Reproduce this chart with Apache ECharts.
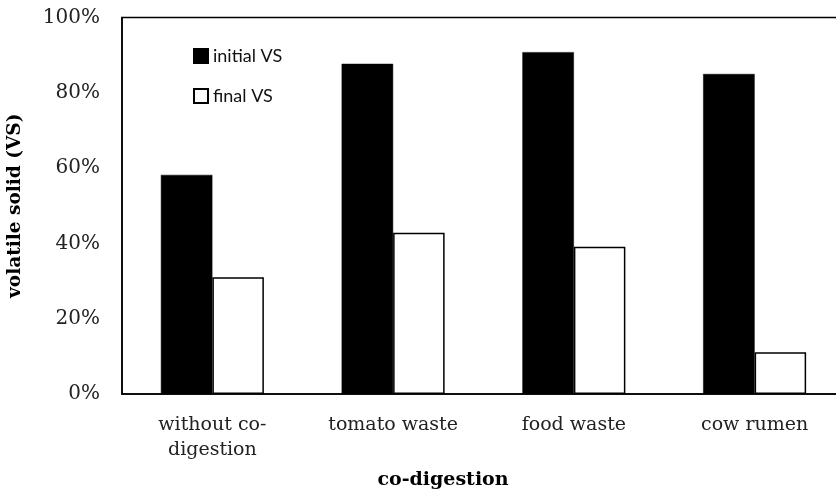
<!DOCTYPE html>
<html>
<head>
<meta charset="utf-8">
<script src="https://cdn.jsdelivr.net/npm/echarts@6/dist/echarts.min.js"></script>
<style>html,body{margin:0;padding:0;background:#fff}#c{width:836px;height:497px}</style>
</head>
<body>
<div id="c"></div>
<script>
const categories = ['without co-\ndigestion', 'tomato waste', 'food waste', 'cow rumen'];
const initialVS = [0.582, 0.877, 0.908, 0.850];
const finalVS = [0.310, 0.428, 0.391, 0.111];
const yTicks = { min: 0, max: 1, interval: 0.2 };

const chart = echarts.init(document.getElementById('c'));
const serif = 'DejaVu Serif';
chart.setOption({
  animation: false,
  backgroundColor: '#fff',
  grid: { left: 122, top: 17.5, width: 723, height: 376.5, outerBoundsMode: 'none', containLabel: false,
    show: true, borderColor: '#000', borderWidth: 1.5, backgroundColor: 'transparent' },
  legend: {
    orient: 'vertical', left: 193, top: 47, padding: 0,
    itemWidth: 14, itemHeight: 14, itemGap: 22,
    icon: 'rect',
    textStyle: { fontFamily: 'Lato', fontSize: 18, color: '#111', lineHeight: 14 },
    data: ['initial VS', 'final VS']
  },
  xAxis: {
    type: 'category', data: categories,
    axisLine: { lineStyle: { color: '#000', width: 1.5 } },
    axisTick: { show: false },
    axisLabel: { fontFamily: serif, fontSize: 19, color: '#222', lineHeight: 25, margin: 19, interval: 0 }
  },
  yAxis: {
    type: 'value', min: yTicks.min, max: yTicks.max, interval: yTicks.interval,
    name: 'volatile solid (VS)', nameLocation: 'middle', nameGap: 97,
    nameTextStyle: { fontFamily: serif, fontSize: 18.5, fontWeight: 'bold', color: '#000' },
    axisLine: { show: true, lineStyle: { color: '#000', width: 1.5 } },
    axisTick: { show: false },
    splitLine: { show: false },
    axisLabel: { fontFamily: serif, fontSize: 20, color: '#222', margin: 22,
      formatter: v => Math.round(v * 100) + '%' }
  },
  graphic: [{
    type: 'text', x: 443, y: 480,
    style: { text: 'co-digestion', fontFamily: serif, fontSize: 19, fontWeight: 'bold', fill: '#000', align: 'center', verticalAlign: 'middle' }
  }],
  series: [
    { name: 'initial VS', type: 'bar', data: initialVS, barWidth: 51.5, barGap: '0%',
      itemStyle: { color: '#000', borderColor: '#000', borderWidth: 0.5 } },
    { name: 'final VS', type: 'bar', data: finalVS, barWidth: 51.5,
      itemStyle: { color: '#fff', borderColor: '#000', borderWidth: 1.5 } }
  ]
});
</script>
</body>
</html>
